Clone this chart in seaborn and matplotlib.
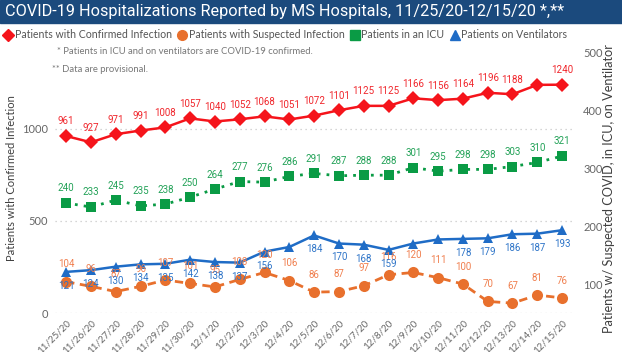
import matplotlib
matplotlib.use("Agg")
import matplotlib.pyplot as plt
from matplotlib.lines import Line2D
from matplotlib.patches import Rectangle
import seaborn as sns
import pandas as pd

dates = ["11/25/20", "11/26/20", "11/27/20", "11/28/20", "11/29/20", "11/30/20",
         "12/1/20", "12/2/20", "12/3/20", "12/4/20", "12/5/20", "12/6/20", "12/7/20",
         "12/8/20", "12/9/20", "12/10/20", "12/11/20", "12/12/20", "12/13/20",
         "12/14/20", "12/15/20"]
confirmed = [961, 927, 971, 991, 1008, 1057, 1040, 1052, 1068, 1051, 1072, 1101,
             1125, 1125, 1166, 1156, 1164, 1196, 1188, 1239, 1240]
suspected = [104, 96, 87, 96, 107, 101, 95, 108, 120, 106, 86, 87, 97, 116, 120,
             111, 100, 70, 67, 81, 76]
icu = [240, 233, 245, 235, 238, 250, 264, 277, 276, 286, 291, 287, 288, 288, 301,
       295, 298, 298, 303, 310, 321]
ventilators = [121, 124, 130, 134, 135, 142, 138, 137, 156, 164, 184, 170, 168, 159,
               170, 177, 178, 179, 186, 187, 193]

sns.set_theme(style="white")
narrow = ["Roboto", "DejaVu Sans"]
plt.rcParams["font.family"] = ["Lato", "DejaVu Sans"]

red = "#F5141B"
orange = "#E8702D"
green = "#0A9B45"
blue = "#1F6CC6"
grey = "#666666"

df = pd.DataFrame({"x": range(len(dates)), "confirmed": confirmed,
                   "suspected": suspected, "icu": icu, "ventilators": ventilators})

W, H = 622, 352
fig = plt.figure(figsize=(W / 100, H / 100), dpi=100)
ax = fig.add_axes([55 / W, 1 - 313 / H, (572 - 55) / W, (313 - 36.8) / H])
ax2 = ax.twinx()

# title bar
fig.patches.append(Rectangle((0, 1 - 23 / H), 1, 23 / H, transform=fig.transFigure,
                             color="#1B4A7D", zorder=0))
fig.text(5 / W, 1 - 11.5 / H, "COVID-19 Hospitalizations Reported by MS Hospitals, 11/25/20-12/15/20 *,**",
         color="white", fontsize=11.7, family=narrow, va="center", ha="left")

sns.lineplot(data=df, x="x", y="confirmed", ax=ax, color=red, marker="D",
             markersize=7, markeredgewidth=0, linewidth=1.8, zorder=3)
sns.lineplot(data=df, x="x", y="icu", ax=ax2, color=green, marker="s",
             markersize=6.5, markeredgewidth=0, linewidth=2, linestyle=(0, (1, 2.2)), zorder=3)
sns.lineplot(data=df, x="x", y="suspected", ax=ax2, color=orange, marker="o",
             markersize=8, markeredgewidth=0, linewidth=2, linestyle=(0, (3, 2)), zorder=3)
sns.lineplot(data=df, x="x", y="ventilators", ax=ax2, color=blue, marker="^",
             markersize=7.5, markeredgewidth=0, linewidth=1.8, zorder=4)


def labels(axis, values, color, dy, hidden=()):
    for i, v in enumerate(values):
        if i in hidden:
            continue
        axis.annotate(str(v), (i, v), xytext=(0, dy), textcoords="offset points",
                      ha="center", va="center", color=color, fontsize=7,
                      family=narrow, zorder=6)


labels(ax, confirmed, "#F0262C", 10.5, hidden=(19,))
labels(ax2, icu, "#23A258", 10.5)
labels(ax2, suspected, "#F07F4E", 12.5)
labels(ax2, ventilators, "#2D74C8", -10, hidden=(9, 14, 15))

ax.set_xlim(-0.45, 20.4)
ax.set_ylim(0, 1500)
ax2.set_ylim(50, 527)
ax.set_yticks([0, 500, 1000])
ax2.set_yticks([100, 200, 300, 400, 500])
ax.set_xticks(range(len(dates)))
ax.set_xticklabels(dates, rotation=45, ha="right", rotation_mode="anchor")
ax.tick_params(axis="x", labelsize=7, colors=grey, length=0, pad=4)
ax.tick_params(axis="y", labelsize=8, colors=grey, length=0, pad=5)
ax2.tick_params(axis="y", labelsize=8, colors=grey, length=0, pad=8)
ax.grid(axis="y", color="#C8C8C8", linestyle=(0, (1, 3)), linewidth=0.9)
ax.set_xlabel("")
ax.set_ylabel("")
ax2.set_ylabel("")
for a in (ax, ax2):
    for s in a.spines.values():
        s.set_visible(False)
ax.set_zorder(ax2.get_zorder() + 1)
ax.patch.set_visible(False)

fig.text(12 / W, 1 - 178 / H, "Patients with Confirmed Infection", rotation=90,
         ha="center", va="center", fontsize=8, color="#404040")
fig.text(609 / W, 1 - 189 / H, "Patients w/ Suspected COVID, in ICU, on Ventilator",
         rotation=90, ha="center", va="center", fontsize=9.2, color="#404040")

fig.text(57 / W, 1 - 52 / H, "* Patients in ICU and on ventilators are COVID-19 confirmed.",
         fontsize=6.8, color="#777777", va="center")
fig.text(52 / W, 1 - 70 / H, "** Data are provisional.", fontsize=6.8,
         color="#777777", va="center")

handles = [
    Line2D([], [], color=red, marker="D", linestyle="", markersize=6),
    Line2D([], [], color=orange, marker="o", linestyle="", markersize=7),
    Line2D([], [], color=green, marker="s", linestyle="", markersize=6.5),
    Line2D([], [], color=blue, marker="^", linestyle="", markersize=7),
]
names = ["Patients with Confirmed Infection", "Patients with Suspected Infection",
         "Patients in an ICU", "Patients on Ventilators"]
fig.legend(handles, names, loc="center left", bbox_to_anchor=(0, 1 - 35 / H),
           ncol=4, frameon=False, fontsize=7.6, handlelength=0.8, handletextpad=0.2,
           columnspacing=0.6, labelcolor="#555555", borderaxespad=0)

fig.savefig("out.png", dpi=100)
